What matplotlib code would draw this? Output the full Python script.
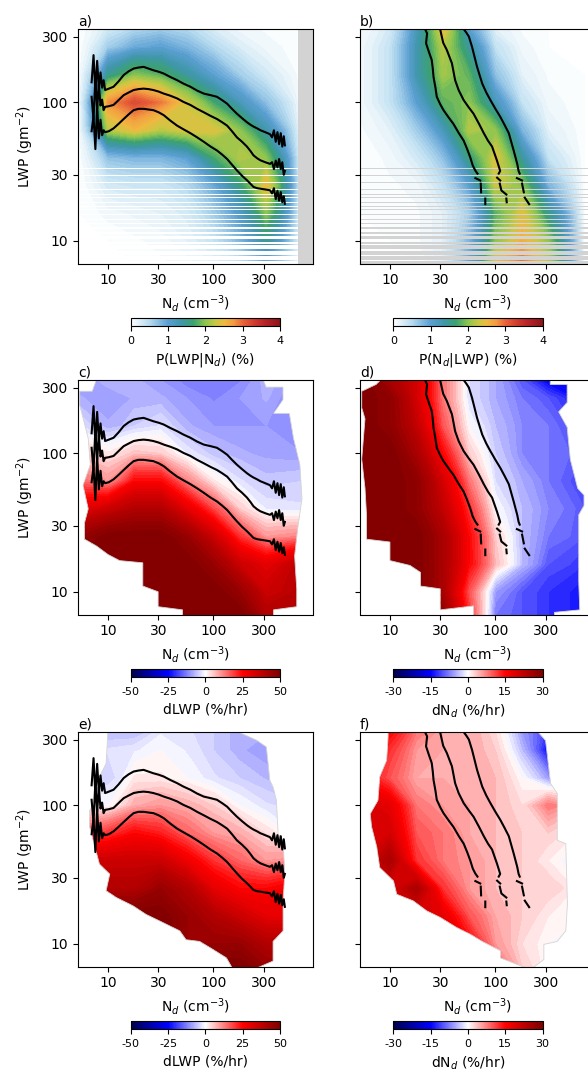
import numpy as np
import matplotlib
matplotlib.use('Agg')
import matplotlib.pyplot as plt
from matplotlib.colors import LinearSegmentedColormap, Normalize
from matplotlib.patches import Polygon
from matplotlib.cm import ScalarMappable
from matplotlib.ticker import NullLocator

plt.rcParams['font.family'] = ['DejaVu Sans']
plt.rcParams['axes.unicode_minus'] = False

nan = np.nan

# ---------------- grid of the binned fields ----------------
nd_centers = [5.2, 10, 17.8, 31.6, 56.2, 100, 178, 316, 700]
lwp_centers = [6.8, 10, 15.8, 25.1, 39.8, 63.1, 100, 158, 251, 340]

# a) P(LWP|Nd) (%), rows = lwp_centers (bottom -> top), cols = nd_centers
pdf_a = [
    [0, 0, 0, 0.05, 0.1, 0.2, 0.4, 0.9, 0],
    [0, 0, 0.05, 0.1, 0.2, 0.4, 0.8, 1.5, 0],
    [0, 0.1, 0.15, 0.2, 0.3, 0.6, 1.1, 2.0, 0],
    [0, 0.3, 0.35, 0.35, 0.5, 0.9, 1.6, 2.5, 0],
    [0, 0.7, 0.8, 0.8, 1.0, 1.7, 2.2, 2.0, 0],
    [0, 2.2, 2.5, 2.2, 2.4, 2.4, 2.0, 1.3, 0],
    [0, 2.8, 3.2, 2.9, 2.3, 1.7, 1.2, 0.7, 0],
    [0, 1.5, 2.0, 1.8, 1.4, 1.0, 0.6, 0.3, 0],
    [0, 0.6, 0.9, 1.0, 0.8, 0.5, 0.25, 0.1, 0],
    [0, 0.3, 0.5, 0.6, 0.5, 0.25, 0.1, 0.05, 0],
]
# b) P(Nd|LWP) (%)
pdf_b = [
    [0, 0, 0, 0.2, 1.0, 2.5, 3.0, 2.2, 0],
    [0, 0, 0.05, 0.2, 0.8, 2.0, 2.6, 2.0, 0],
    [0, 0.02, 0.05, 0.2, 0.6, 1.8, 2.4, 1.5, 0],
    [0, 0.05, 0.1, 0.4, 1.0, 2.3, 2.0, 0.8, 0],
    [0, 0.1, 0.3, 0.7, 1.6, 2.4, 1.4, 0.4, 0],
    [0.05, 0.2, 0.6, 1.2, 2.2, 2.0, 0.8, 0.2, 0],
    [0.1, 0.4, 1.0, 1.8, 2.0, 1.2, 0.4, 0.1, 0],
    [0.1, 0.4, 1.3, 2.1, 1.8, 0.7, 0.2, 0.05, 0],
    [0.1, 0.4, 1.3, 2.2, 1.4, 0.4, 0.1, 0, 0],
    [0.05, 0.3, 1.2, 2.5, 1.0, 0.2, 0.05, 0, 0],
]
# c) dLWP (%/hr)
dlwp_c = [
    [50, 50, 50, 50, 50, 50, 50, 40, 40],
    [50, 50, 50, 50, 50, 50, 45, 35, 40],
    [50, 50, 50, 50, 50, 45, 35, 30, 40],
    [45, 50, 50, 50, 45, 35, 20, 10, 12],
    [30, 35, 40, 40, 30, 18, 5, -2, -3],
    [15, 10, 25, 25, 12, 2, -3, -6, -5],
    [6, 2, 6, 5, -2, -6, -8, -9, -10],
    [-3, -8, -5, -3, -8, -10, -10, -10, -10],
    [-8, -10, -8, -8, -10, -12, -10, -8, -15],
    [-10, -7, -8, -10, -13, -13, -12, -7, -13],
]
# d) dNd (%/hr)
dnd_d = [
    [30, 30, 30, 28, 12, -8, -10, -12, -14],
    [30, 30, 30, 25, 10, -6, -10, -12, -14],
    [30, 30, 30, 25, 15, 4, -4, -10, -12],
    [30, 30, 30, 25, 15, 3, -4, -8, -10],
    [30, 30, 28, 22, 12, 0, -4, -7, -10],
    [30, 30, 28, 20, 8, -2, -5, -8, -12],
    [30, 30, 25, 15, 3, -3, -7, -8, -10],
    [30, 28, 22, 10, 0, -4, -7, -8, -13],
    [30, 28, 20, 8, -2, -5, -8, -10, -16],
    [30, 25, 20, 8, -2, -5, -10, -16, -14],
]
# e) dLWP (%/hr)
dlwp_e = [
    [50, 50, 50, 50, 50, 50, 50, 45, 45],
    [50, 50, 50, 50, 45, 45, 45, 40, 40],
    [50, 50, 50, 50, 45, 40, 35, 30, 30],
    [40, 40, 40, 45, 40, 30, 25, 25, 30],
    [35, 35, 35, 35, 28, 20, 15, 10, 12],
    [15, 20, 25, 22, 15, 10, 8, 3, -3],
    [0, 0, 8, 10, 8, 5, 0, -3, -5],
    [-5, -5, 2, 2, 0, -3, -5, -7, -8],
    [-3, -3, -2, 0, -2, -5, -8, -10, -10],
    [-7, -7, -7, -2, -3, -5, -8, -8, -8],
]
# f) dNd (%/hr)
dnd_f = [
    [20, 20, 20, 20, 15, 10, 3, 0, 0],
    [20, 20, 20, 20, 15, 6, 2, 0, 0],
    [20, 20, 20, 18, 10, 5, 3, 1, 0],
    [20, 20, 25, 12, 6, 4, 3, 3, 0],
    [20, 25, 12, 8, 6, 4, 3, 1, -3],
    [20, 20, 10, 8, 5, 4, 3, 3, 0],
    [20, 18, 8, 6, 5, 4, 2, 8, 4],
    [15, 10, 5, 5, 5, 4, 0, -6, -6],
    [15, 12, 6, 5, 5, 3, -4, -15, -12],
    [15, 15, 8, 5, 5, 2, -6, -12, -12],
]

# extent of populated bins for the tendency panels (Nd, LWP outline)
ext_c_nd = [5.4, 7.1, 7.8, 295, 316, 457, 457, 372, 525, 575, 661, 692, 631, 589, 617, 617, 372, 372,
            51, 51, 29.9, 29.9, 21.4, 21.4, 12.9, 10, 7.8, 6.0, 6.0, 6.5, 5.8, 6.8, 6.5, 5.4]
ext_c_lwp = [282, 282, 345, 345, 302, 302, 245, 195, 195, 129, 83, 47, 29, 18.2, 10.5, 7.8, 7.4, 6.3,
             6.3, 7.4, 7.8, 10, 11, 16.2, 16.8, 18.6, 21.4, 24, 31.6, 39.8, 59, 83, 129, 224]
ext_d_nd = [5.4, 7.4, 8.3, 331, 331, 479, 479, 398, 479, 513, 603, 692, 692, 617, 617, 631, 363, 363,
            62, 62, 30, 30, 19.5, 19.5, 15.5, 10, 10, 6.0, 6.0, 5.8, 5.4, 5.6, 5.8, 5.4]
ext_d_lwp = [282, 316, 345, 345, 316, 316, 234, 200, 155, 91, 56, 50, 42, 36, 11.7, 7.4, 7.1, 6.3,
             6.3, 7.9, 7.4, 10.5, 11, 13.8, 15.5, 16.8, 22.9, 24, 35.5, 56, 91, 129, 178, 214]
ext_e_nd = [10, 165, 256, 318, 343, 368, 396, 411, 458, 475, 458, 458, 368, 368, 238, 154, 133, 99,
            74, 55, 48, 31, 23, 17.3, 12, 9.6, 10.4, 8.3, 7.7, 6.7, 6.7, 8.3, 8.3, 9.6]
ext_e_lwp = [345, 345, 297, 265, 152, 136, 109, 62, 56, 32, 20.4, 12.4, 10.4, 7.5, 6.5, 6.5, 7.9, 9.1,
             10.4, 10.7, 12.4, 14.6, 16.3, 18.8, 21.6, 24.2, 31.9, 37.7, 47, 70, 92, 115, 161, 201]
ext_f_nd = [9.6, 249, 299, 334, 386, 386, 465, 482, 465, 386, 288, 288, 215, 112, 112, 75, 58, 43,
            30, 22.3, 16.7, 11.6, 10.8, 8.0, 7.5, 6.7, 6.5, 7.7, 8.0, 9.3, 9.6]
ext_f_lwp = [345, 345, 295, 144, 122, 56, 53, 19.3, 12.4, 10.4, 9.9, 7.7, 6.5, 7.9, 8.9, 10.4, 11.7, 13.1,
             15.5, 17.3, 20.4, 22.8, 28.5, 35.6, 50, 70, 87, 109, 161, 212, 313]

# LWP bins without any retrievals (low LWP quantisation)
gap_lwp_lo = [32.9, 29.4, 26.2, 24.75, 23.1, 21.5, 20.25, 18.74, 17.63, 16.58, 15.26, 14.03, 13.2,
              12.14, 11.11, 10.22, 9.40, 8.65, 7.91, 7.32, 6.5]
gap_lwp_hi = [33.6, 30.06, 26.6, 25.0, 23.5, 21.9, 20.6, 19.05, 17.92, 16.86, 15.6, 14.43, 13.5,
              12.49, 11.55, 10.74, 9.88, 9.25, 8.46, 7.78, 7.20]
nd_nodata_a = 630

# ---------------- percentile lines ----------------
lines_nd = [7.0, 7.3, 7.6, 7.9, 8.2, 8.5, 8.8, 9.1,
            9.4, 10.2, 11.3, 12.6, 14.1, 15.7, 17.5, 19.5, 21.8, 24.2,
            27.0, 30.2, 33.8, 39.0, 45.3, 52.0, 60.5, 70, 81, 94,
            108, 121, 135, 150, 167, 187, 208, 225, 240, 260,
            279, 310, 344,
            360, 375, 390, 405, 420, 435, 450, 465, 476]
lwp_p75 = [140, 220, 120, 200, 125, 165, 128, 145,
           123, 126, 130, 142, 158, 168, 176, 179, 181, 176,
           171, 167, 162, 153, 145, 137, 130, 122, 116, 113,
           110, 104, 98, 90, 83, 77, 72, 69, 67, 65,
           63, 61, 59,
           56, 63, 52, 61, 50, 60, 48, 57, 49]
lwp_p50 = [110, 75, 150, 90, 135, 95, 105, 88,
           93, 94, 96, 104, 113, 118, 123, 125, 126, 125,
           123, 120, 116, 112, 107, 101, 96, 90, 85, 80,
           76, 72, 68, 62, 56, 52, 48, 44.5, 41.5, 39.5,
           38.2, 37, 36,
           37, 33, 38, 34, 39, 33, 37, 30, 32]
lwp_p25 = [62, 80, 46, 95, 55, 75, 58, 63,
           61, 62, 65, 70, 76, 82, 88, 90, 90, 89,
           88, 85, 81, 74, 68, 64, 60, 56, 52, 48,
           45, 42, 39, 35.5, 32.3, 29.5, 27.4, 25.8, 24.5, 24.0,
           23.8, 23.5, 23.2,
           22, 24, 20, 23, 19.5, 22.5, 19, 21, 18.5]

nd_p25 = [21.5, 22.5, 22.0, 23.5, 24.9, 25.5, 25.9, 27.0, 27.8, 30.0, 32.2, 36, 40, 45, 50, 54, 57.8, 61,
          64.5, 67.6, nan, 64.6, 71.8, nan, 72.6, 73.2, nan, 80.2, 80.2]
nd_p25_lwp = [340, 316, 268, 230, 203, 175, 153, 128, 110, 97, 88, 78, 70, 60, 53, 46, 40, 35,
              32.2, 30.6, nan, 28.4, 27.3, nan, 25.9, 22.4, nan, 20.2, 18.4]
nd_p50 = [29.9, 31, 32, 34.6, 38.7, 41.5, 44.8, 50, 56, 62, 70, 77.6, 85, 93, 103.5, 111, 107.5,
          nan, 103.8, 111, nan, 110, 114, 127, nan, 127, 128]
nd_p50_lwp = [340, 300, 270, 240, 192, 145, 123, 104, 92, 83, 70, 60, 53, 48, 38, 32, 30.6,
              nan, 28.6, 27.3, nan, 25.9, 23.1, 21.6, nan, 20.2, 19.0]
nd_p75 = [50, 53, 56, 60, 67, 75, 82, 89.7, 100, 111, 122, 134, 149, 161, 166, 170,
          nan, 160, 179, nan, 179, 186, nan, 190, 209]
nd_p75_lwp = [340, 320, 300, 253, 181, 137, 118, 104, 90, 79, 69, 60, 45, 36, 32, 30.6,
              nan, 28.4, 27.3, nan, 25.9, 22.4, nan, 20.5, 18.4]

ticks_vals = [10, 30, 100, 300]
ticks_lbls = ['10', '30', '100', '300']

# ---------------- styling ----------------
pdf_cmap = LinearSegmentedColormap.from_list('pdf', [
    (0.0, '#ffffff'), (0.12, '#b9dcf0'), (0.25, '#5a9fd2'), (0.34, '#3f97a8'),
    (0.42, '#3ba170'), (0.5, '#8cc550'), (0.57, '#c8c843'), (0.63, '#f0b840'),
    (0.69, '#f39a42'), (0.75, '#e8643a'), (0.83, '#d13a2e'), (0.9, '#b82328'),
    (1.0, '#8c1418')])
div_cmap = plt.get_cmap('seismic')

W, H = 588, 1071
fig = plt.figure(figsize=(W / 100, H / 100), dpi=100)


def rect(left, top, width, height):
    return [left / W, 1 - (top + height) / H, width / W, height / H]


col_left = [78, 360]
row_top = [29, 380, 732]
AW, AH = 235, 234.5
cb_left = [130.7, 393.3]
CBW, CBH = 149.3, 8.5
XLIM = (5.2, 880)
YLIM = (6.85, 340)

panels = [
    dict(letter='a)', r=0, c=0, Z=pdf_a, cmap=pdf_cmap, vmin=0, vmax=4, cticks=[0, 1, 2, 3, 4],
         clabel='P(LWP|N$_d$) (%)', kind='a'),
    dict(letter='b)', r=0, c=1, Z=pdf_b, cmap=pdf_cmap, vmin=0, vmax=4, cticks=[0, 1, 2, 3, 4],
         clabel='P(N$_d$|LWP) (%)', kind='b'),
    dict(letter='c)', r=1, c=0, Z=dlwp_c, cmap=div_cmap, vmin=-50, vmax=50, cticks=[-50, -25, 0, 25, 50],
         clabel='dLWP (%/hr)', kind='t', ext=(ext_c_nd, ext_c_lwp)),
    dict(letter='d)', r=1, c=1, Z=dnd_d, cmap=div_cmap, vmin=-30, vmax=30, cticks=[-30, -15, 0, 15, 30],
         clabel='dN$_d$ (%/hr)', kind='t', ext=(ext_d_nd, ext_d_lwp)),
    dict(letter='e)', r=2, c=0, Z=dlwp_e, cmap=div_cmap, vmin=-50, vmax=50, cticks=[-50, -25, 0, 25, 50],
         clabel='dLWP (%/hr)', kind='t', ext=(ext_e_nd, ext_e_lwp)),
    dict(letter='f)', r=2, c=1, Z=dnd_f, cmap=div_cmap, vmin=-30, vmax=30, cticks=[-30, -15, 0, 15, 30],
         clabel='dN$_d$ (%/hr)', kind='t', ext=(ext_f_nd, ext_f_lwp)),
]

Xg, Yg = np.meshgrid(nd_centers, lwp_centers)

for p in panels:
    ax = fig.add_axes(rect(col_left[p['c']], row_top[p['r']], AW, AH))
    ax.set_xscale('log')
    ax.set_yscale('log')
    Z = np.array(p['Z'], dtype=float)
    levels = np.linspace(p['vmin'], p['vmax'], 61)
    cs = ax.contourf(Xg, Yg, Z, levels=levels, cmap=p['cmap'], extend='both', zorder=1)

    if p['kind'] == 't':
        poly = Polygon(np.column_stack(p['ext']), closed=True, transform=ax.transData,
                       facecolor='none', edgecolor='#d4d4d4', lw=0.6, zorder=1.5)
        ax.add_patch(poly)
        cs.set_clip_path(poly)
    elif p['kind'] == 'a':
        for lo, hi in zip(gap_lwp_lo, gap_lwp_hi):
            ax.axhspan(lo, hi, color='white', lw=0, zorder=2)
        ax.axvspan(nd_nodata_a, 5000, color='lightgray', lw=0, zorder=2.5)
    elif p['kind'] == 'b':
        for lo, hi in zip(gap_lwp_lo, gap_lwp_hi):
            ax.axhspan(lo, hi, color='lightgray', lw=0, zorder=2)

    if p['c'] == 0:
        for lw_line in (lwp_p75, lwp_p50, lwp_p25):
            ax.plot(lines_nd, lw_line, color='k', lw=1.5, zorder=3)
    else:
        for xs, ys in ((nd_p25, nd_p25_lwp), (nd_p50, nd_p50_lwp), (nd_p75, nd_p75_lwp)):
            ax.plot(xs, ys, color='k', lw=1.5, zorder=3)

    ax.set_xlim(*XLIM)
    ax.set_ylim(*YLIM)
    ax.set_xticks(ticks_vals)
    ax.set_xticklabels(ticks_lbls)
    ax.set_yticks(ticks_vals)
    ax.xaxis.set_minor_locator(NullLocator())
    ax.yaxis.set_minor_locator(NullLocator())
    if p['c'] == 0:
        ax.set_yticklabels(ticks_lbls)
        ax.set_ylabel('LWP (gm$^{-2}$)')
    else:
        ax.set_yticklabels([])
    ax.set_xlabel('N$_d$ (cm$^{-3}$)')
    ax.text(0.0, 1.003, p['letter'], transform=ax.transAxes, ha='left', va='bottom', fontsize=10)

    cax = fig.add_axes(rect(cb_left[p['c']], row_top[p['r']] + 288.5, CBW, CBH))
    sm = ScalarMappable(norm=Normalize(p['vmin'], p['vmax']), cmap=p['cmap'])
    cb = fig.colorbar(sm, cax=cax, orientation='horizontal', ticks=p['cticks'])
    cb.ax.tick_params(labelsize=8)
    cb.set_label(p['clabel'], fontsize=10)

fig.savefig('out.png', dpi=100)
